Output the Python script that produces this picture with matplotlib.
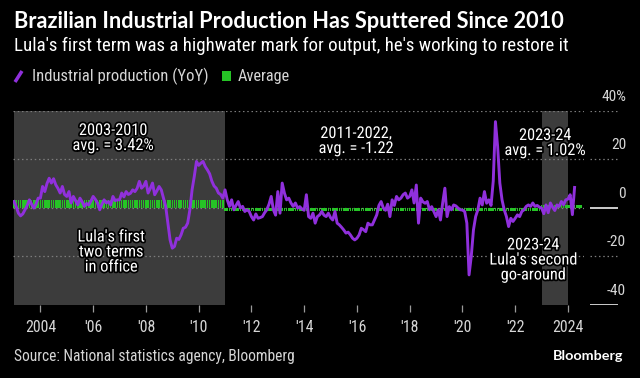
import matplotlib
matplotlib.use('Agg')
import matplotlib.pyplot as plt
import matplotlib.patheffects as pe
from matplotlib.lines import Line2D
from matplotlib.patches import Rectangle
from matplotlib import font_manager
from matplotlib.font_manager import FontProperties
import numpy as np

# ---------------- data (monthly YoY %, Jan 2003 - Apr 2024) ----------------
ip_2003 = [2.6, 0.5, -2.2, -3.3, -2.5, -0.8, 1.0, 3.3, 1.5, -0.1, 1.5, 4.0]
ip_2004 = [4.0, 8.8, 6.7, 10.0, 12.2, 10.2, 12.0, 9.5, 8.0, 6.1, 8.8, 5.5]
ip_2005 = [4.7, 6.7, 2.0, 4.7, 3.0, 1.2, 4.0, 2.5, 0.6, 1.8, 1.2, 2.8]
ip_2006 = [4.7, 3.5, 2.0, -0.8, 1.5, 3.3, 2.0, 2.6, 1.2, 4.7, 3.0, 3.3]
ip_2007 = [3.3, 6.1, 4.5, 6.7, 5.5, 6.0, 7.4, 6.7, 8.0, 10.9, 8.1, 9.0]
ip_2008 = [10.9, 6.1, 8.0, 10.2, 5.4, 7.0, 8.8, 7.4, 4.0, 0.6, -6.3, -13.2]
ip_2009 = [-16.6, -15.9, -12.5, -13.0, -11.1, -8.4, -8.0, -6.3, -0.8, 7.4, 12.9, 19.1]
ip_2010 = [17.5, 18.4, 19.1, 17.0, 15.6, 14.0, 11.0, 9.0, 8.1, 6.1, 5.5, 4.0]
ip_2011 = [7.4, 3.3, 0.6, 3.3, -0.8, 1.0, 2.6, -0.1, 0.6, -1.5, -0.8, -1.5]
ip_2012 = [-3.6, -5.0, -2.5, -4.3, -4.0, -3.6, -2.0, -0.8, 1.5, 4.7, -0.8, -3.0]
ip_2013 = [6.7, -2.2, 10.2, 6.1, 3.3, 4.0, 2.0, 0.6, 2.0, -0.1, 0.5, -0.5]
ip_2014 = [-1.0, 5.4, -3.6, -4.3, -2.2, -6.3, -3.6, -2.9, -1.5, -3.0, -3.6, -2.2]
ip_2015 = [-4.0, -5.0, -1.5, -6.3, -7.0, -8.0, -9.1, -10.4, -10.0, -11.1, -12.5, -13.2]
ip_2016 = [-12.5, -11.1, -8.4, -9.0, -9.8, -6.3, -7.0, -7.0, -5.0, -2.9, 1.0, 2.6]
ip_2017 = [-0.1, -1.0, 1.5, -3.6, 3.3, 1.0, 4.7, 3.3, 4.0, 5.4, 6.1, 4.0]
ip_2018 = [4.7, 7.4, 2.0, 9.4, -6.3, 4.0, 2.5, 1.9, 2.6, -0.8, 0.5, -1.5]
ip_2019 = [-3.6, -0.8, -5.0, 2.0, 8.1, -3.6, 0.5, -0.8, 1.2, 0.8, -0.1, -0.8]
ip_2020 = [-0.9, -1.5, -6.3, -27.6, -20.0, -9.1, -3.6, -0.8, 4.0, 1.2, 6.7, 1.9]
ip_2021 = [3.3, 1.0, 11.0, 35.5, 25.2, 10.2, 3.3, -0.8, -3.6, -7.7, -4.3, -5.6]
ip_2022 = [-4.3, -2.9, -3.6, -1.5, -0.8, 0.6, 1.2, 0.6, 2.0, 0.6, 1.0, 0.3]
ip_2023 = [-0.1, -2.4, 1.2, -2.0, 2.0, 0.3, -1.1, 1.2, 0.6, 2.6, 1.3, 3.3]
ip_2024 = [3.6, 5.4, -2.8, 8.4]

# period averages (first year, last year, average)
avg_first_years = [2003, 2011, 2023]
avg_last_years = [2010, 2022, 2024]
avg_values = [3.42, -1.22, 1.02]
avg_last_month_2024 = 7

shade_starts = [2003.0, 2023.0]
shade_ends = [2011.0, 2024.0]

x_ticks = [2004, 2006, 2008, 2010, 2012, 2014, 2016, 2018, 2020, 2022, 2024]
x_ticklabels = ['2004', "'06", "'08", "'10", "'12", "'14", "'16", "'18", "'20", "'22", '2024']
y_ticks = [40, 20, 0, -20, -40]
y_ticklabels = ['40%', '20', '0', '-20', '-40']

title = 'Brazilian Industrial Production Has Sputtered Since 2010'
subtitle = "Lula's first term was a highwater mark for output, he's working to restore it"
source = 'Source: National statistics agency, Bloomberg'

# ---------------- fonts: prefer a condensed face ----------------
def pick_narrow():
    entries = font_manager.fontManager.ttflist
    def regular(f):
        return f.style == 'normal' and f.weight in (400, 'normal', 'regular', 'book')
    prefs = []
    for f in entries:
        nm = f.name
        st = str(f.stretch)
        cond = ('Narrow' in nm or 'Condensed' in nm or st in ('condensed', 'semi-condensed', 500 - 125)
                or (isinstance(f.stretch, int) and f.stretch < 500))
        if not cond or not regular(f):
            continue
        if 'Extra' in nm or 'extra' in st or 'ultra' in st:
            continue
        rank = 10
        for i, key in enumerate(['Liberation Sans Narrow', 'Roboto', 'Noto Sans', 'Open Sans', 'DejaVu Sans', 'Lato', 'Inter']):
            if nm.startswith(key):
                rank = i
                break
        prefs.append((rank, f.fname))
    if prefs:
        prefs.sort()
        return FontProperties(fname=prefs[0][1])
    return FontProperties(family=['Roboto', 'DejaVu Sans'])

NARROW_FP = pick_narrow()
BOLD = ['Lato', 'DejaVu Sans']

# ---------------- build series ----------------
ip = (ip_2003 + ip_2004 + ip_2005 + ip_2006 + ip_2007 + ip_2008 + ip_2009 + ip_2010 +
      ip_2011 + ip_2012 + ip_2013 + ip_2014 + ip_2015 + ip_2016 + ip_2017 + ip_2018 +
      ip_2019 + ip_2020 + ip_2021 + ip_2022 + ip_2023 + ip_2024)
t = 2003 + np.arange(len(ip)) / 12.0

avg_t, avg_v = [], []
for fy_, ly, v in zip(avg_first_years, avg_last_years, avg_values):
    for y in range(fy_, ly + 1):
        nm = avg_last_month_2024 if y == 2024 else 12
        for m in range(nm):
            avg_t.append(y + m / 12.0)
            avg_v.append(v)

# ---------------- figure ----------------
W, H = 640, 378
fig = plt.figure(figsize=(W / 100, H / 100), dpi=100, facecolor='black')
renderer = fig.canvas.get_renderer()

def fx(px):
    return px / W

def fy(py):
    return 1 - py / H

def nfp(size):
    p = NARROW_FP.copy()
    p.set_size(size)
    return p

def fit(txt, target):
    w = txt.get_window_extent(renderer=renderer).width
    txt.set_fontsize(txt.get_fontsize() * target / w)

ax_left, ax_right, ax_top, ax_bot = 13.3, 584.0, 110.7, 305.0
ax = fig.add_axes([fx(ax_left), fy(ax_bot), fx(ax_right - ax_left), (ax_bot - ax_top) / H])
ax.set_facecolor('black')
x0 = 2003.0 - 0.7 / 26.38
x1 = x0 + (ax_right - ax_left) / 26.38
ax.set_xlim(x0, x1)
ax.set_ylim(-40, 40)
for s in ax.spines.values():
    s.set_visible(False)

PURPLE = '#9030dc'
GREEN = '#26c426'
SHADE = '#3c3c3c'
GRID = '#7c7c7c'
TXT = '#d6d6d6'

for a, b in zip(shade_starts, shade_ends):
    ax.axvspan(max(a, x0), b, color=SHADE, lw=0, zorder=0)

for yv in [40, 20, 0, -20]:
    ax.axhline(yv, color=GRID, lw=0.9, ls=(0, (1.2, 2.2)), zorder=1)

ax.bar(avg_t, avg_v, width=0.7 / 12, color=GREEN, lw=0, zorder=2)
ax.plot(t, ip, color=PURPLE, lw=2.1, zorder=3, solid_joinstyle='round')

ax.set_yticks([])
ax.set_xticks(x_ticks)
ax.set_xticklabels(x_ticklabels)
ax.tick_params(axis='x', length=5, width=0.9, color='#9a9a9a', labelcolor=TXT, pad=6)
xt = ax.get_xticklabels()
for lbl in xt:
    lbl.set_fontproperties(nfp(12))
# size x tick labels so that '2004' is about 31 px wide
fit(xt[0], 31)
for lbl in xt[1:]:
    lbl.set_fontsize(xt[0].get_fontsize())

# right-hand value scale
ax2 = fig.add_axes([fx(590), fy(ax_bot), fx(28), (ax_bot - ax_top) / H])
ax2.set_xlim(0, 1)
ax2.set_ylim(-40, 40)
ax2.axis('off')
ylabs = []
for yv, lab in zip(y_ticks, y_ticklabels):
    if yv in (0, -40):
        ax2.axhline(yv, color='#dcdcdc', lw=1.3, zorder=1)
    else:
        ax2.axhline(yv, color=GRID, lw=0.9, ls=(0, (1.2, 2.2)), zorder=1)
    ylabs.append(ax2.text(1 + 8 / 28, yv + 5.8, lab, ha='right', va='center', color=TXT,
                          fontproperties=nfp(11.5), clip_on=False))
fit(ylabs[0], 25)
for tx in ylabs[1:]:
    tx.set_fontsize(ylabs[0].get_fontsize())

# annotations
stroke = [pe.withStroke(linewidth=2.5, foreground='black')]

anns = []
def ann(xpx, ypx, s):
    tx = fig.text(fx(xpx), fy(ypx), s, ha='center', va='center', color='white',
                  fontproperties=nfp(12), linespacing=1.0, path_effects=stroke, zorder=5)
    anns.append(tx)
    return tx

a0 = ann(113, 138, '2003-2010\navg. = 3.42%')
ann(111, 252, "Lula's first\ntwo terms\nin office")
ann(356, 141, '2011-2022,\navg. = -1.22')
ann(545, 143, '2023-24\navg. = 1.02%')
ann(533, 260, "2023-24\nLula's second\ngo-around")
fit(a0, 81)
for tx in anns[1:]:
    tx.set_fontsize(a0.get_fontsize())

# header texts
t_title = fig.text(fx(14), fy(22), title, ha='left', va='center', color='white',
                   fontsize=14, fontweight='bold', family=BOLD)
fit(t_title, 554)
t_sub = fig.text(fx(14), fy(46), subtitle, ha='left', va='center', color='white',
                 fontproperties=nfp(12))
fit(t_sub, 553)

# legend
fig.add_artist(Line2D([fx(15), fx(22)], [fy(82), fy(71)], color=PURPLE, lw=2.5,
                      solid_capstyle='butt'))
t_l1 = fig.text(fx(32), fy(76), 'Industrial production (YoY)', ha='left', va='center',
                color=TXT, fontproperties=nfp(12))
fit(t_l1, 176)
fig.add_artist(Rectangle((fx(222), fy(81)), fx(9), 10 / H, color=GREEN, lw=0))
t_l2 = fig.text(fx(238), fy(76), 'Average', ha='left', va='center',
                color=TXT, fontproperties=nfp(12))
fit(t_l2, 52)

# footer
t_src = fig.text(fx(14), fy(356), source, ha='left', va='center', color=TXT,
                 fontproperties=nfp(12))
fit(t_src, 281)
t_bb = fig.text(fx(623), fy(356), 'Bloomberg', ha='right', va='center', color='white',
                fontsize=11, fontweight='bold', family=BOLD)
fit(t_bb, 70)

fig.savefig('out.png', dpi=100, facecolor='black')
